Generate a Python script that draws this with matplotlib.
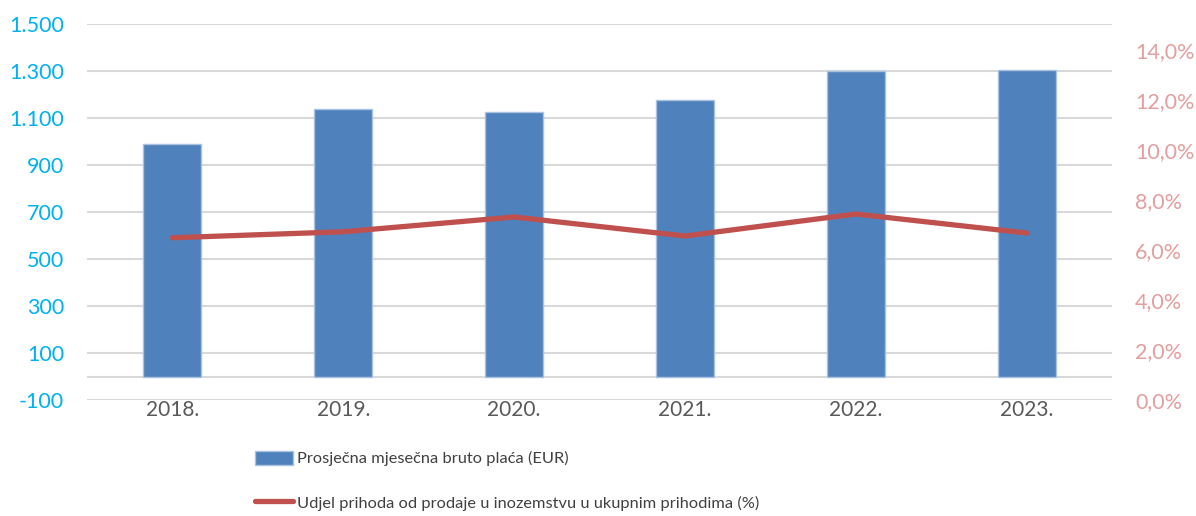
import matplotlib
matplotlib.use("Agg")
import matplotlib.pyplot as plt
from matplotlib.patches import Patch
from matplotlib.lines import Line2D
from matplotlib.ticker import FuncFormatter, FixedLocator

years = ["2018.", "2019.", "2020.", "2021.", "2022.", "2023."]
placa = [988, 1138, 1125, 1177, 1299, 1306]
udjel = [6.49, 6.73, 7.32, 6.56, 7.44, 6.68]
left_ticks = [-100, 100, 300, 500, 700, 900, 1100, 1300, 1500]
right_ticks = [0, 2, 4, 6, 8, 10, 12, 14]
bar_label = "Prosječna mjesečna bruto plaća (EUR)"
line_label = "Udjel prihoda od prodaje u inozemstvu u ukupnim prihodima (%)"

plt.rcParams['font.family'] = ['Lato', 'DejaVu Sans']

fig = plt.figure(figsize=(11.96, 5.16), dpi=100)
ax = fig.add_axes([87/1196, 1-400/516, (1112-87)/1196, (400-24)/516])
ax2 = ax.twinx()

x = list(range(len(years)))
ax.bar(x, placa, width=0.34, color="#4F81BD", edgecolor="#A9C2E2", linewidth=1.0, zorder=3)
ax.set_xlim(-0.5, len(years) - 0.5)
ax.set_ylim(-100, 1500)
ax.yaxis.set_major_locator(FixedLocator(left_ticks))
ax.yaxis.set_major_formatter(FuncFormatter(lambda v, p: f"{int(v):,}".replace(",", ".")))
ax.grid(axis='y', color="#D9D9D9", linewidth=1.5, zorder=0)
ax.axhline(0, color="#D9D9D9", linewidth=1.5, zorder=1)
ax.set_axisbelow(True)
ax.set_xticks(x)
ax.set_xticklabels(years)

ax2.plot(x, udjel, color="#C0504D", linewidth=3.8, solid_capstyle='round', zorder=4)
ax2.set_ylim(0, 15.04)
ax2.yaxis.set_major_locator(FixedLocator(right_ticks))
ax2.yaxis.set_major_formatter(FuncFormatter(lambda v, p: f"{v:.1f}%".replace(".", ",")))

for a in (ax, ax2):
    for s in a.spines.values():
        s.set_visible(False)
ax.tick_params(axis='y', length=0, labelsize=15.5, labelcolor="#00B0F0", pad=16.5)
ax.tick_params(axis='x', length=0, labelsize=15, labelcolor="#595959", pad=0)
ax2.tick_params(axis='y', length=0, labelsize=15.5, labelcolor="#E39E9E", pad=16.5)

handles = [Patch(facecolor="#4F81BD", edgecolor="#A9C2E2"),
           Line2D([0], [0], color="#C0504D", linewidth=3.8, solid_capstyle='round')]
fig.legend(handles, [bar_label, line_label], loc='upper left',
           bbox_to_anchor=(255/1196, 1-451/516), frameon=False,
           labelcolor="#404040", handlelength=2.3, handleheight=0.9,
           handletextpad=0.25, labelspacing=1.75, borderpad=0, borderaxespad=0,
           prop={'family': ['Lato', 'DejaVu Sans'], 'size': 11.8})

fig.savefig("out.png", dpi=100)
